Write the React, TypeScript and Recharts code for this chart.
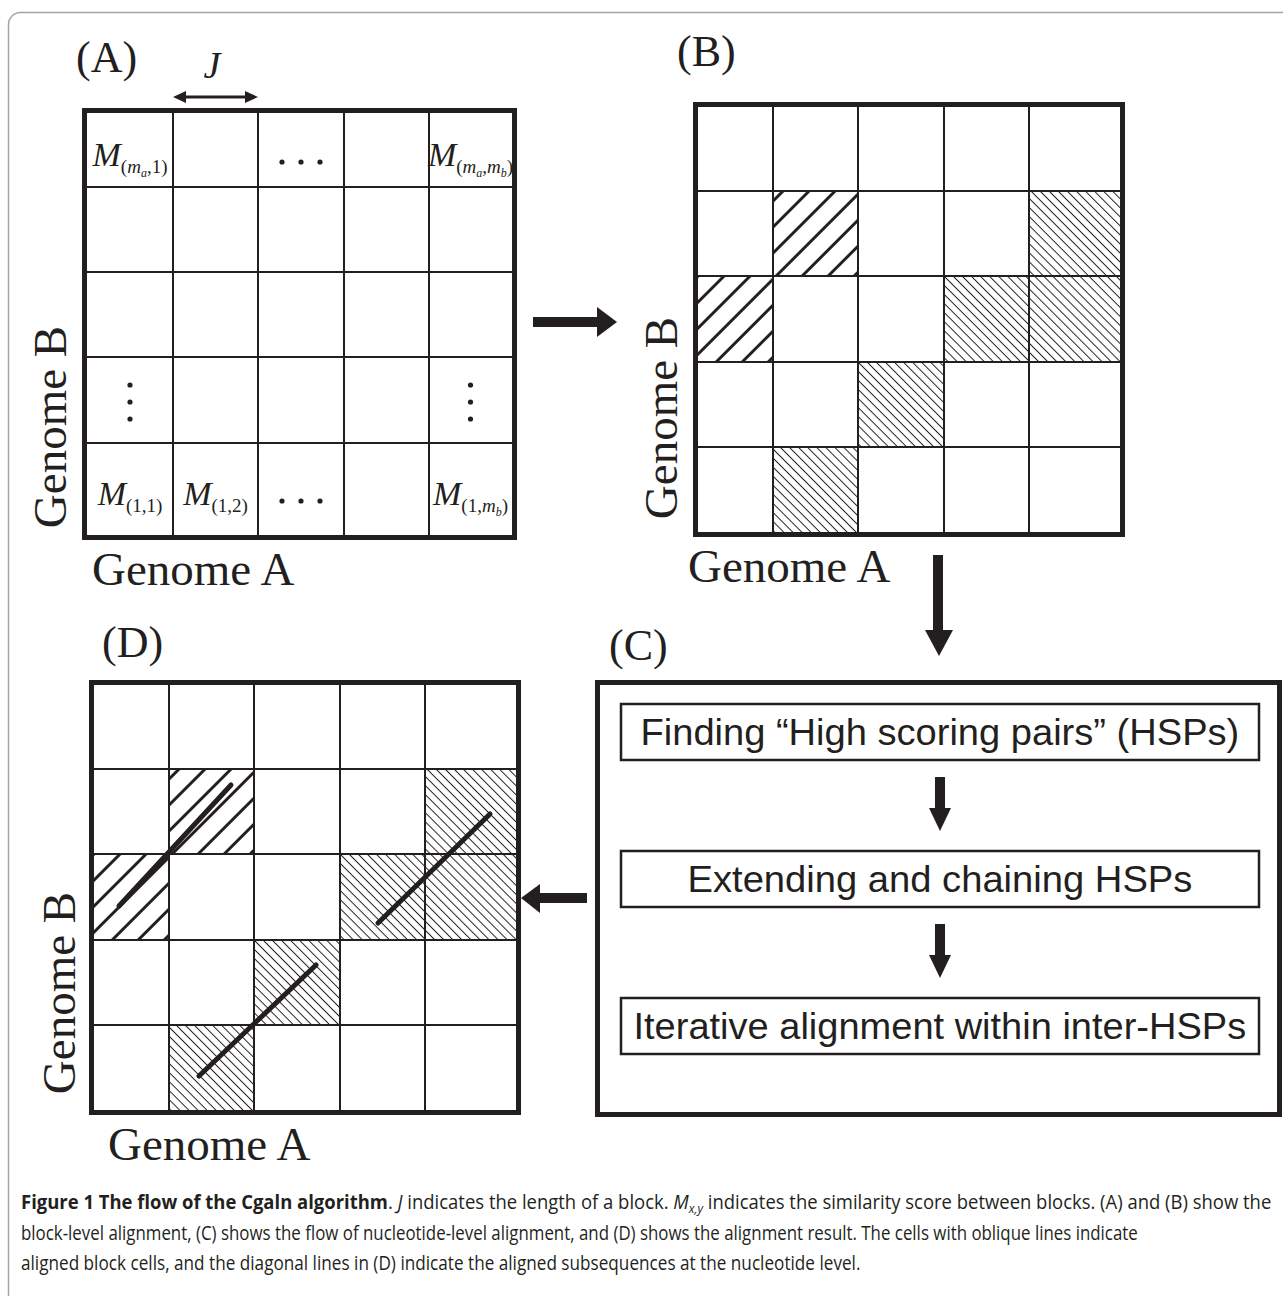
import React, { useLayoutEffect, useRef, useState } from "react";
import {
  Bar,
  BarChart,
  ComposedChart,
  ReferenceArea,
  ReferenceLine,
  Scatter,
  XAxis,
  YAxis
} from "recharts";

const INK = "#231f20";
const SERIF = "'Liberation Serif', 'Times New Roman', serif";
const NARROW = "'Liberation Sans Narrow', 'Liberation Sans', Arial, sans-serif";
const CAPTION = "'Open Sans', 'Noto Sans', sans-serif";

// block boundaries, panel A (genome A = columns, genome B = rows counted from the bottom)
const colEdgesA = [0, 86, 171, 257, 342, 425];
const rowEdgesA = [0, 92, 178, 263, 348, 422];

// panels B and D share one block grid
const colEdgesBD = [0, 75, 160, 246, 331, 422];
const rowEdgesBD = [0, 85, 170, 256, 341, 425];

// score labels of panel A (col / row start at 1, row 1 is the bottom row)
const scoreLabels = [
  { col: 1, row: 5, kind: "M", i: "m_a", j: "1" },
  { col: 3, row: 5, kind: "hdots", i: "", j: "" },
  { col: 5, row: 5, kind: "M", i: "m_a", j: "m_b" },
  { col: 1, row: 2, kind: "vdots", i: "", j: "" },
  { col: 5, row: 2, kind: "vdots", i: "", j: "" },
  { col: 1, row: 1, kind: "M", i: "1", j: "1" },
  { col: 2, row: 1, kind: "M", i: "1", j: "2" },
  { col: 3, row: 1, kind: "hdots", i: "", j: "" },
  { col: 5, row: 1, kind: "M", i: "1", j: "m_b" }
];

// aligned block cells in B and D
const alignedCells = [
  { col: 2, row: 4, hatch: "bold" },
  { col: 1, row: 3, hatch: "bold" },
  { col: 5, row: 4, hatch: "thin" },
  { col: 4, row: 3, hatch: "thin" },
  { col: 5, row: 3, hatch: "thin" },
  { col: 3, row: 2, hatch: "thin" },
  { col: 2, row: 1, hatch: "thin" }
];

// aligned subsequences at nucleotide level (panel D, same units as the block grid)
const nucleotideSegments = [
  { x1: 25, y1: 204, x2: 137, y2: 325 },
  { x1: 284, y1: 187, x2: 396, y2: 296 },
  { x1: 105, y1: 34, x2: 222, y2: 145 }
];

const flowSteps = [
  { label: "Finding \u201cHigh scoring pairs\u201d (HSPs)", v: 1 },
  { label: "Extending and chaining HSPs", v: 1 },
  { label: "Iterative alignment within inter-HSPs", v: 1 }
];
const flowTextWidths = [599, 505, 613];

const mid = (edges: number[], k: number) => (edges[k - 1] + edges[k]) / 2;

// text squeezed horizontally to a measured width (condensed faces are not installed)
function FitText({ x, y, width, anchor = "start", children, ...rest }: any) {
  const ref = useRef<SVGTextElement>(null);
  const [sx, setSx] = useState(1);
  useLayoutEffect(() => {
    if (ref.current) {
      const len = ref.current.getComputedTextLength();
      if (len > 0) setSx(width / len);
    }
  }, [width]);
  const left = anchor === "middle" ? x - width / 2 : x;
  return (
    <text ref={ref} transform={`translate(${left} ${y}) scale(${sx} 1)`} x={0} y={0} {...rest}>
      {children}
    </text>
  );
}

function ScoreLabel(props: any) {
  const { cx, cy } = props;
  const p = props.payload || props;
  if (p.kind === "hdots") {
    return (
      <g fill={INK}>
        {[-19, 0, 19].map((d) => (
          <circle key={d} cx={cx + d} cy={cy + 12} r={2.6} />
        ))}
      </g>
    );
  }
  if (p.kind === "vdots") {
    return (
      <g fill={INK}>
        {[-17, 0, 17].map((d) => (
          <circle key={d} cx={cx} cy={cy + 2 + d} r={2.6} />
        ))}
      </g>
    );
  }
  const spans: React.ReactNode[] = [];
  spans.push(
    <tspan key="M" fontSize={34} fontStyle="italic">
      M
    </tspan>
  );
  spans.push(
    <tspan key="open" fontSize={19} dy={7}>
      (
    </tspan>
  );
  let pending = 0;
  const pushIdx = (idx: string, key: string) => {
    const [base, sub] = idx.split("_");
    if (sub) {
      spans.push(
        <tspan key={key + "b"} fontSize={19} fontStyle="italic" dy={pending || undefined}>
          {base}
        </tspan>
      );
      spans.push(
        <tspan key={key + "s"} fontSize={12} fontStyle="italic" dy={4}>
          {sub}
        </tspan>
      );
      pending = -4;
    } else {
      spans.push(
        <tspan key={key + "b"} fontSize={19} dy={pending || undefined}>
          {base}
        </tspan>
      );
      pending = 0;
    }
  };
  pushIdx(p.i, "i");
  spans.push(
    <tspan key="comma" fontSize={19} dy={pending || undefined}>
      ,
    </tspan>
  );
  pending = 0;
  pushIdx(p.j, "j");
  spans.push(
    <tspan key="close" fontSize={19} dy={pending || undefined}>
      )
    </tspan>
  );
  return (
    <text x={cx} y={cy + 16} textAnchor="middle" fontFamily={SERIF} fill={INK}>
      {spans}
    </text>
  );
}

function DoubleArrow(props: any) {
  const { x1, y1, x2 } = props;
  return (
    <g fill={INK}>
      <rect x={x1 + 8} y={y1 - 1.5} width={x2 - x1 - 16} height={3} />
      <polygon points={`${x1},${y1} ${x1 + 13},${y1 - 6} ${x1 + 13},${y1 + 6}`} />
      <polygon points={`${x2},${y1} ${x2 - 13},${y1 - 6} ${x2 - 13},${y1 + 6}`} />
    </g>
  );
}

function GridPanel({ x, y, colEdges, rowEdges, cells = [], segments = [], labels = [], jArrow = false }: any) {
  const w = colEdges[colEdges.length - 1];
  const h = rowEdges[rowEdges.length - 1];
  const labelPoints = labels.map((l: any) => ({ ...l, x: mid(colEdges, l.col), y: mid(rowEdges, l.row) }));
  return (
    <>
      <div
        style={{
          position: "absolute",
          left: x - 5,
          top: y - 5,
          width: w + 10,
          height: h + 10,
          border: `5px solid ${INK}`,
          boxSizing: "border-box"
        }}
      />
      <div style={{ position: "absolute", left: x, top: y, width: w, height: h }}>
        <ComposedChart width={w} height={h} margin={{ top: 0, right: 0, bottom: 0, left: 0 }}>
          <defs>
            <pattern id="hatchBold" patternUnits="userSpaceOnUse" width={18.4} height={18.4} patternTransform="rotate(45)">
              <line x1={9.2} y1={0} x2={9.2} y2={18.4} stroke={INK} strokeWidth={3} />
            </pattern>
            <pattern id="hatchThin" patternUnits="userSpaceOnUse" width={6.4} height={6.4} patternTransform="rotate(-45)">
              <line x1={3.2} y1={0} x2={3.2} y2={6.4} stroke={INK} strokeWidth={1} />
            </pattern>
          </defs>
          <XAxis type="number" dataKey="x" domain={[0, w]} allowDataOverflow hide />
          <YAxis type="number" dataKey="y" domain={[0, h]} allowDataOverflow hide />
          {cells.map((c: any, i: number) => (
            <ReferenceArea
              key={"c" + i}
              x1={colEdges[c.col - 1]}
              x2={colEdges[c.col]}
              y1={rowEdges[c.row - 1]}
              y2={rowEdges[c.row]}
              fill={c.hatch === "bold" ? "url(#hatchBold)" : "url(#hatchThin)"}
              fillOpacity={1}
              stroke="none"
            />
          ))}
          {colEdges.slice(1, -1).map((e: number) => (
            <ReferenceLine key={"v" + e} x={e} stroke={INK} strokeWidth={2} />
          ))}
          {rowEdges.slice(1, -1).map((e: number) => (
            <ReferenceLine key={"h" + e} y={e} stroke={INK} strokeWidth={2} />
          ))}
          {segments.map((s: any, i: number) => (
            <ReferenceLine
              key={"s" + i}
              segment={[
                { x: s.x1, y: s.y1 },
                { x: s.x2, y: s.y2 }
              ]}
              stroke={INK}
              strokeWidth={5}
              strokeLinecap="round"
            />
          ))}
          {jArrow && (
            <ReferenceLine
              segment={[
                { x: colEdges[1], y: h + 16 },
                { x: colEdges[2], y: h + 16 }
              ]}
              ifOverflow="visible"
              shape={DoubleArrow}
            />
          )}
          {labelPoints.length > 0 && (
            <Scatter data={labelPoints} shape={ScoreLabel} isAnimationActive={false} />
          )}
        </ComposedChart>
      </div>
    </>
  );
}

function FlowBox(props: any) {
  const { x, y, width, height, index, payload } = props;
  const cx = x + width / 2;
  const cy = y + height / 2;
  const bottom = y + height;
  const last = index === flowSteps.length - 1;
  return (
    <g>
      <rect x={x} y={y} width={width} height={height} fill="#fff" stroke={INK} strokeWidth={2.5} />
      <FitText x={cx} y={cy + 13} width={flowTextWidths[index]} anchor="middle" fontSize={37} fontFamily={NARROW} fill={INK}>
        {payload.label}
      </FitText>
      {!last && (
        <g fill={INK}>
          <rect x={cx - 5} y={bottom + 17} width={10} height={32} />
          <polygon points={`${cx - 11},${bottom + 48} ${cx + 11},${bottom + 48} ${cx},${bottom + 71}`} />
        </g>
      )}
    </g>
  );
}

function FlowPanel() {
  return (
    <>
      <div
        style={{
          position: "absolute",
          left: 595,
          top: 680,
          width: 687,
          height: 437,
          border: `5px solid ${INK}`,
          boxSizing: "border-box"
        }}
      />
      <div style={{ position: "absolute", left: 621, top: 658 }}>
        <BarChart width={638} height={441} data={flowSteps} layout="vertical" margin={{ top: 0, right: 0, bottom: 0, left: 0 }} barSize={56}>
          <XAxis type="number" domain={[0, 1]} hide />
          <YAxis type="category" dataKey="label" hide />
          <Bar dataKey="v" shape={FlowBox} isAnimationActive={false} />
        </BarChart>
      </div>
    </>
  );
}

function Overlay() {
  const letter = { fontFamily: SERIF, fontSize: 44, fill: INK };
  const genome = { fontFamily: SERIF, fontSize: 47, fill: INK };
  return (
    <svg width={1283} height={1296} style={{ position: "absolute", left: 0, top: 0, pointerEvents: "none" }}>
      <rect x={8.5} y={12.5} width={1400} height={1400} rx={12} fill="none" stroke="#a3a3a3" strokeWidth={1.5} />

      <text x={76} y={72} {...letter}>(A)</text>
      <text x={677} y={66} {...letter}>(B)</text>
      <text x={609} y={660} {...letter}>(C)</text>
      <text x={102} y={657} {...letter}>(D)</text>

      <text x={212} y={78} textAnchor="middle" fontFamily={SERIF} fontStyle="italic" fontSize={38} fill={INK}>J</text>

      <text x={92} y={585} {...genome}>Genome A</text>
      <text x={688} y={582} {...genome}>Genome A</text>
      <text x={108} y={1160} {...genome}>Genome A</text>
      <text x={66} y={427} textAnchor="middle" transform="rotate(-90 66 427)" {...genome}>Genome B</text>
      <text x={677} y={418} textAnchor="middle" transform="rotate(-90 677 418)" {...genome}>Genome B</text>
      <text x={75} y={993} textAnchor="middle" transform="rotate(-90 75 993)" {...genome}>Genome B</text>

      <g fill={INK}>
        <rect x={533} y={317} width={66} height={10} />
        <polygon points="597,307 617,322 597,337" />
        <rect x={933} y={555} width={10} height={77} />
        <polygon points="925,630 953,630 939,656" />
        <rect x={537} y={893} width={50} height={10} />
        <polygon points="540,884 521,898 540,913" />
      </g>

      <g fontFamily={CAPTION} fontSize={20} fill={INK}>
        <FitText x={21} y={1209} width={1251}>
          <tspan fontWeight={700}>Figure 1 The flow of the Cgaln algorithm</tspan>
          <tspan>. </tspan>
          <tspan fontStyle="italic">J</tspan>
          <tspan> indicates the length of a block. </tspan>
          <tspan fontStyle="italic">M</tspan>
          <tspan fontStyle="italic" fontSize={13} dy={4}>x,y</tspan>
          <tspan dy={-4}> indicates the similarity score between blocks. (A) and (B) show the</tspan>
        </FitText>
        <FitText x={21} y={1240} width={1117}>
          block-level alignment, (C) shows the flow of nucleotide-level alignment, and (D) shows the alignment result. The cells with oblique lines indicate
        </FitText>
        <FitText x={21} y={1270} width={840}>
          aligned block cells, and the diagonal lines in (D) indicate the aligned subsequences at the nucleotide level.
        </FitText>
      </g>
    </svg>
  );
}

export default function App() {
  return (
    <div style={{ position: "absolute", left: 0, top: 0, width: 1283, height: 1296, background: "#fff", overflow: "hidden" }}>
      <style>{`.recharts-surface{overflow:visible}`}</style>
      <GridPanel x={87} y={113} colEdges={colEdgesA} rowEdges={rowEdgesA} labels={scoreLabels} jArrow />
      <GridPanel x={698} y={107} colEdges={colEdgesBD} rowEdges={rowEdgesBD} cells={alignedCells} />
      <GridPanel x={94} y={685} colEdges={colEdgesBD} rowEdges={rowEdgesBD} cells={alignedCells} segments={nucleotideSegments} />
      <FlowPanel />
      <Overlay />
    </div>
  );
}
